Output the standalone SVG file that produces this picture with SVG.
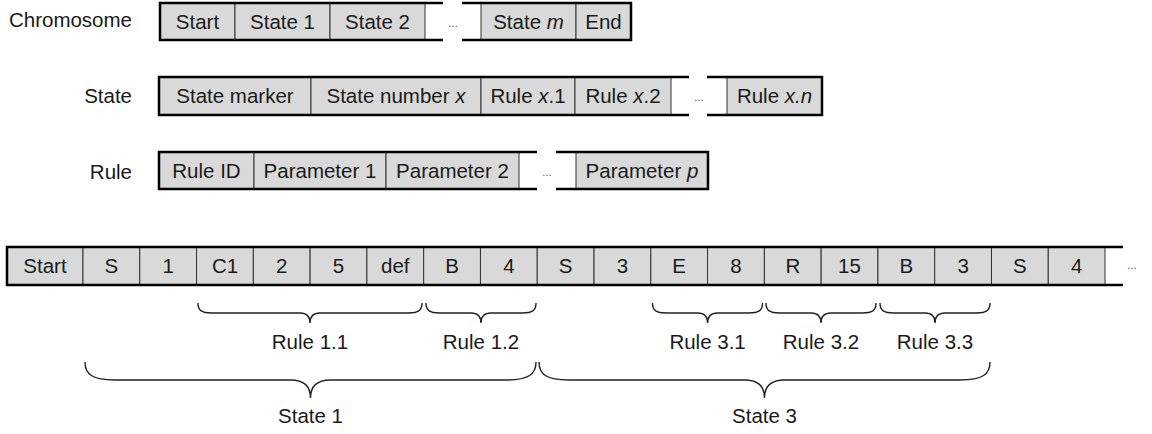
<svg xmlns="http://www.w3.org/2000/svg" width="1152" height="434" viewBox="0 0 1152 434">
  <style>
    .cell { fill: #d9d9d9; stroke: #333; stroke-width: 1; }
    .frame { fill: none; stroke: #000; stroke-width: 2.5; }
    .t { font-family: "Liberation Sans", Arial, sans-serif; font-size: 20.5px; fill: #1a1a1a; text-anchor: middle; }
    .lbl { font-family: "Liberation Sans", Arial, sans-serif; font-size: 20.5px; fill: #1a1a1a; text-anchor: end; }
    .dots { font-family: "Liberation Sans", Arial, sans-serif; font-size: 10px; fill: #333; text-anchor: middle; }
    .brace { fill: none; stroke: #222; stroke-width: 1.4; }
  </style>

  <!-- Row labels -->
  <text class="lbl" x="132" y="27">Chromosome</text>
  <text class="lbl" x="132" y="103">State</text>
  <text class="lbl" x="132" y="179">Rule</text>

  <!-- Chromosome layout -->
  <g id="chromosome">
    <g id="chr-start"><rect class="cell" x="160" y="3" width="75" height="37"/><text class="t" x="197.5" y="29">Start</text></g>
    <g id="chr-state1"><rect class="cell" x="235" y="3" width="95" height="37"/><text class="t" x="282.5" y="29">State 1</text></g>
    <g id="chr-state2"><rect class="cell" x="330" y="3" width="95" height="37"/><text class="t" x="377.5" y="29">State 2</text></g>
    <g id="chr-more"><text class="dots" x="453" y="27">…</text></g>
    <g id="chr-statem"><rect class="cell" x="481" y="3" width="95" height="37"/><text class="t" x="528.5" y="29">State <tspan font-style="italic">m</tspan></text></g>
    <g id="chr-end"><rect class="cell" x="576" y="3" width="55" height="37"/><text class="t" x="603.5" y="29">End</text></g>
    <path class="frame" d="M443,3 H160 V40 H443 M462,3 H631 V40 H462"/>
  </g>

  <!-- State layout -->
  <g id="state">
    <g id="st-marker"><rect class="cell" x="159" y="77" width="152" height="38"/><text class="t" x="235" y="103">State marker</text></g>
    <g id="st-number"><rect class="cell" x="311" y="77" width="170" height="38"/><text class="t" x="396" y="103">State number <tspan font-style="italic">x</tspan></text></g>
    <g id="st-rule1"><rect class="cell" x="481" y="77" width="94" height="38"/><text class="t" x="528" y="103">Rule <tspan font-style="italic">x</tspan>.1</text></g>
    <g id="st-rule2"><rect class="cell" x="575" y="77" width="96" height="38"/><text class="t" x="623" y="103">Rule <tspan font-style="italic">x</tspan>.2</text></g>
    <g id="st-more"><text class="dots" x="699" y="101">…</text></g>
    <g id="st-rulen"><rect class="cell" x="727" y="77" width="95" height="38"/><text class="t" x="774.5" y="103">Rule <tspan font-style="italic">x.n</tspan></text></g>
    <path class="frame" d="M689,77 H159 V115 H689 M707,77 H822 V115 H707"/>
  </g>

  <!-- Rule layout -->
  <g id="rule">
    <g id="ru-id"><rect class="cell" x="159" y="152" width="95" height="37"/><text class="t" x="206.5" y="178">Rule ID</text></g>
    <g id="ru-p1"><rect class="cell" x="254" y="152" width="132" height="37"/><text class="t" x="320" y="178">Parameter 1</text></g>
    <g id="ru-p2"><rect class="cell" x="386" y="152" width="133" height="37"/><text class="t" x="452.5" y="178">Parameter 2</text></g>
    <g id="ru-more"><text class="dots" x="547" y="176">…</text></g>
    <g id="ru-pp"><rect class="cell" x="576" y="152" width="132" height="37"/><text class="t" x="642" y="178">Parameter <tspan font-style="italic">p</tspan></text></g>
    <path class="frame" d="M537,152 H159 V189 H537 M556,152 H708 V189 H556"/>
  </g>

  <!-- Example chromosome -->
  <g id="example">
    <g id="ex-start"><rect class="cell" x="7" y="247" width="76" height="38"/><text class="t" x="45" y="273">Start</text></g>
    <g id="ex-1"><rect class="cell" x="83" y="247" width="56.78" height="38"/><text class="t" x="111.4" y="273">S</text></g>
    <g id="ex-2"><rect class="cell" x="139.78" y="247" width="56.78" height="38"/><text class="t" x="168.2" y="273">1</text></g>
    <g id="ex-3"><rect class="cell" x="196.56" y="247" width="56.78" height="38"/><text class="t" x="225" y="273">C1</text></g>
    <g id="ex-4"><rect class="cell" x="253.34" y="247" width="56.78" height="38"/><text class="t" x="281.7" y="273">2</text></g>
    <g id="ex-5"><rect class="cell" x="310.12" y="247" width="56.78" height="38"/><text class="t" x="338.5" y="273">5</text></g>
    <g id="ex-6"><rect class="cell" x="366.9" y="247" width="56.78" height="38"/><text class="t" x="395.3" y="273">def</text></g>
    <g id="ex-7"><rect class="cell" x="423.68" y="247" width="56.78" height="38"/><text class="t" x="452.1" y="273">B</text></g>
    <g id="ex-8"><rect class="cell" x="480.46" y="247" width="56.78" height="38"/><text class="t" x="508.9" y="273">4</text></g>
    <g id="ex-9"><rect class="cell" x="537.24" y="247" width="56.78" height="38"/><text class="t" x="565.6" y="273">S</text></g>
    <g id="ex-10"><rect class="cell" x="594.02" y="247" width="56.78" height="38"/><text class="t" x="622.4" y="273">3</text></g>
    <g id="ex-11"><rect class="cell" x="650.8" y="247" width="56.78" height="38"/><text class="t" x="679.2" y="273">E</text></g>
    <g id="ex-12"><rect class="cell" x="707.58" y="247" width="56.78" height="38"/><text class="t" x="736" y="273">8</text></g>
    <g id="ex-13"><rect class="cell" x="764.36" y="247" width="56.78" height="38"/><text class="t" x="792.8" y="273">R</text></g>
    <g id="ex-14"><rect class="cell" x="821.14" y="247" width="56.78" height="38"/><text class="t" x="849.5" y="273">15</text></g>
    <g id="ex-15"><rect class="cell" x="877.92" y="247" width="56.78" height="38"/><text class="t" x="906.3" y="273">B</text></g>
    <g id="ex-16"><rect class="cell" x="934.7" y="247" width="56.78" height="38"/><text class="t" x="963.1" y="273">3</text></g>
    <g id="ex-17"><rect class="cell" x="991.48" y="247" width="56.78" height="38"/><text class="t" x="1019.9" y="273">S</text></g>
    <g id="ex-18"><rect class="cell" x="1048.26" y="247" width="56.74" height="38"/><text class="t" x="1076.6" y="273">4</text></g>
    <g id="ex-more"><text class="dots" x="1132" y="269">…</text></g>
    <path class="frame" d="M1123,247 H7 V285 H1123"/>
  </g>

  <!-- Braces grouping genes into rules and states -->
  <g id="braces">
    <path class="brace" d="M198,303 C198,310 201,313 212,313 H300 Q310,313 310,323 Q310,313 320,313 H408 C419,313 422,310 422,303"/>
    <path class="brace" d="M426,303 C426,310 429,313 440,313 H471 Q481,313 481,323 Q481,313 491,313 H522 C533,313 536,310 536,303"/>
    <path class="brace" d="M652.5,303 C652.5,310 655.5,313 666.5,313 H697.6 Q707.6,313 707.6,323 Q707.6,313 717.6,313 H748.5 C759.5,313 762.5,310 762.5,303"/>
    <path class="brace" d="M766,303 C766,310 769,313 780,313 H811 Q821,313 821,323 Q821,313 831,313 H862 C873,313 876,310 876,303"/>
    <path class="brace" d="M880,303 C880,310 883,313 894,313 H925 Q935,313 935,323 Q935,313 945,313 H976 C987,313 990,310 990,303"/>
    <path class="brace" d="M85,362 C85,374 92,380 115,380 H290.5 Q310.5,380 310.5,398 Q310.5,380 330.5,380 H506 C529,380 536,374 536,362"/>
    <path class="brace" d="M539,362 C539,374 546,380 569,380 H744.5 Q764.5,380 764.5,398 Q764.5,380 784.5,380 H960 C983,380 990,374 990,362"/>
  </g>

  <!-- Brace labels -->
  <g id="brace-labels">
    <text class="t" x="310" y="349">Rule 1.1</text>
    <text class="t" x="481" y="349">Rule 1.2</text>
    <text class="t" x="707.6" y="349">Rule 3.1</text>
    <text class="t" x="821" y="349">Rule 3.2</text>
    <text class="t" x="935" y="349">Rule 3.3</text>
    <text class="t" x="310.5" y="423">State 1</text>
    <text class="t" x="764.5" y="423">State 3</text>
  </g>
</svg>
